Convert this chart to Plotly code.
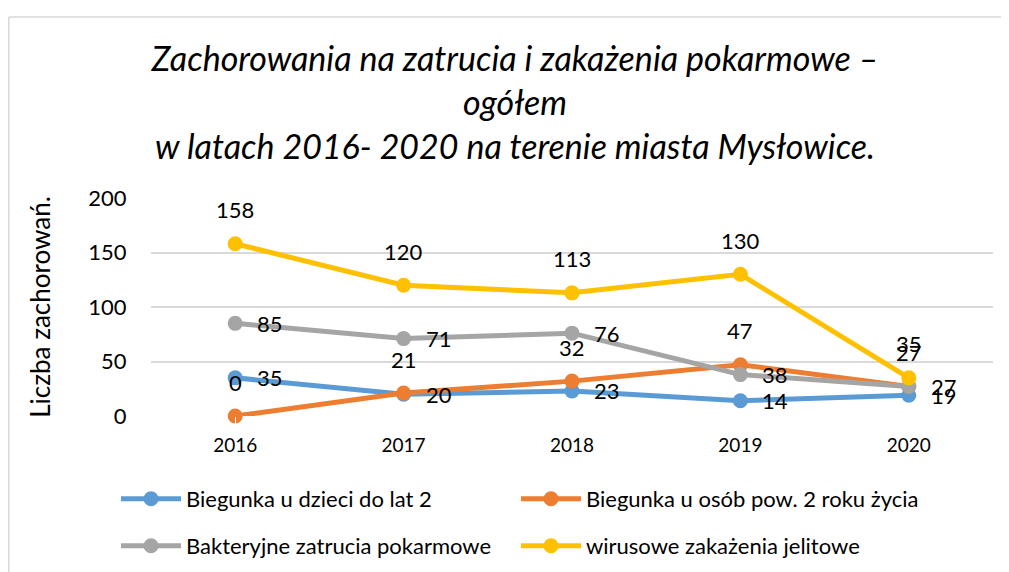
import plotly.graph_objects as go

years = ["2016", "2017", "2018", "2019", "2020"]
dzieci = [35, 20, 23, 14, 19]
dorosli = [0, 21, 32, 47, 27]
bakteryjne = [85, 71, 76, 38, 27]
wirusowe = [158, 120, 113, 130, 35]

names = ["Biegunka u dzieci do lat 2", "Biegunka u osób pow. 2 roku życia",
         "Bakteryjne zatrucia pokarmowe", "wirusowe zakażenia jelitowe"]
colors = ["#5B9BD5", "#ED7D31", "#A5A5A5", "#FFC000"]
series = [dzieci, dorosli, bakteryjne, wirusowe]
label_pos = ["right", "top", "right", "top"]
legends = ["legend", "legend2", "legend3", "legend4"]

FONT = "Lato"
W, H = 1001, 564          # page body has an 8px margin
L, R, T, B = 143, 16, 190, 156

fig = go.Figure()
for name, col, vals, lg in zip(names, colors, series, legends):
    fig.add_trace(go.Scatter(
        x=years, y=vals, name=name, mode="lines+markers",
        line=dict(color=col, width=5),
        marker=dict(color=col, size=15),
        cliponaxis=False, legend=lg,
    ))

annotations = []
for vals, pos in zip(series, label_pos):
    for i, v in enumerate(vals):
        if pos == "right":
            annotations.append(dict(x=i, y=v, xref="x", yref="y", text=str(v), showarrow=False,
                                    xanchor="left", yanchor="middle", xshift=20,
                                    font=dict(family=FONT, size=22, color="#000")))
        else:
            annotations.append(dict(x=i, y=v, xref="x", yref="y", text=str(v), showarrow=False,
                                    xanchor="center", yanchor="middle", yshift=34,
                                    font=dict(family=FONT, size=22, color="#000")))

pw = W - L - R
ph = H - T - B
def px_x(p):
    return (p - L) / pw
def px_y(p):
    return (H - B - p) / ph

border = dict(color="#D9D9D9", width=1.5)
fig.add_shape(type="line", xref="paper", yref="paper", layer="below",
              x0=px_x(0.8), x1=px_x(1030), y0=px_y(9), y1=px_y(9), line=border)
fig.add_shape(type="line", xref="paper", yref="paper", layer="below",
              x0=px_x(0.8), x1=px_x(0.8), y0=px_y(9), y1=px_y(600), line=border)

leg_font = dict(family=FONT, size=22, color="#000")
def leg(xp, yp):
    return dict(orientation="h", x=px_x(xp), y=px_y(yp), xanchor="left", yanchor="middle",
                itemwidth=60, font=leg_font, bgcolor="rgba(0,0,0,0)")

fig.update_layout(
    width=W, height=H,
    margin=dict(l=L, r=R, t=T, b=B, autoexpand=False),
    paper_bgcolor="white", plot_bgcolor="white",
    font=dict(family=FONT, color="#000"),
    title=dict(text="Zachorowania na zatrucia i zakażenia pokarmowe –<br>ogółem<br>w latach 2016- 2020 na terenie miasta Mysłowice.",
               x=507 / W, xanchor="center", y=1 - 63 / H, yanchor="top",
               yref="container", xref="container",
               font=dict(family=FONT, size=34, style="italic", color="#000")),
    xaxis=dict(type="category", range=[-0.5, 4.5], showgrid=False, zeroline=False, showline=False,
               ticks="outside", ticklen=12, tickcolor="white",
               tickfont=dict(family=FONT, size=19, color="#000")),
    yaxis=dict(range=[0, 200], dtick=50, showgrid=True, gridcolor="#D9D9D9", gridwidth=1.5,
               zeroline=False, showline=False, ticks="outside", ticklen=19, tickcolor="white",
               tickfont=dict(family=FONT, size=22, color="#000"),
               title=dict(text="Liczba zachorowań.", font=dict(family=FONT, size=26, color="#000"),
                          standoff=30)),
    legend=leg(108, 491),
    legend2=leg(508, 491),
    legend3=leg(108, 538),
    legend4=leg(508, 538),
    annotations=annotations,
    showlegend=True,
)

fig.write_html("out.html")
